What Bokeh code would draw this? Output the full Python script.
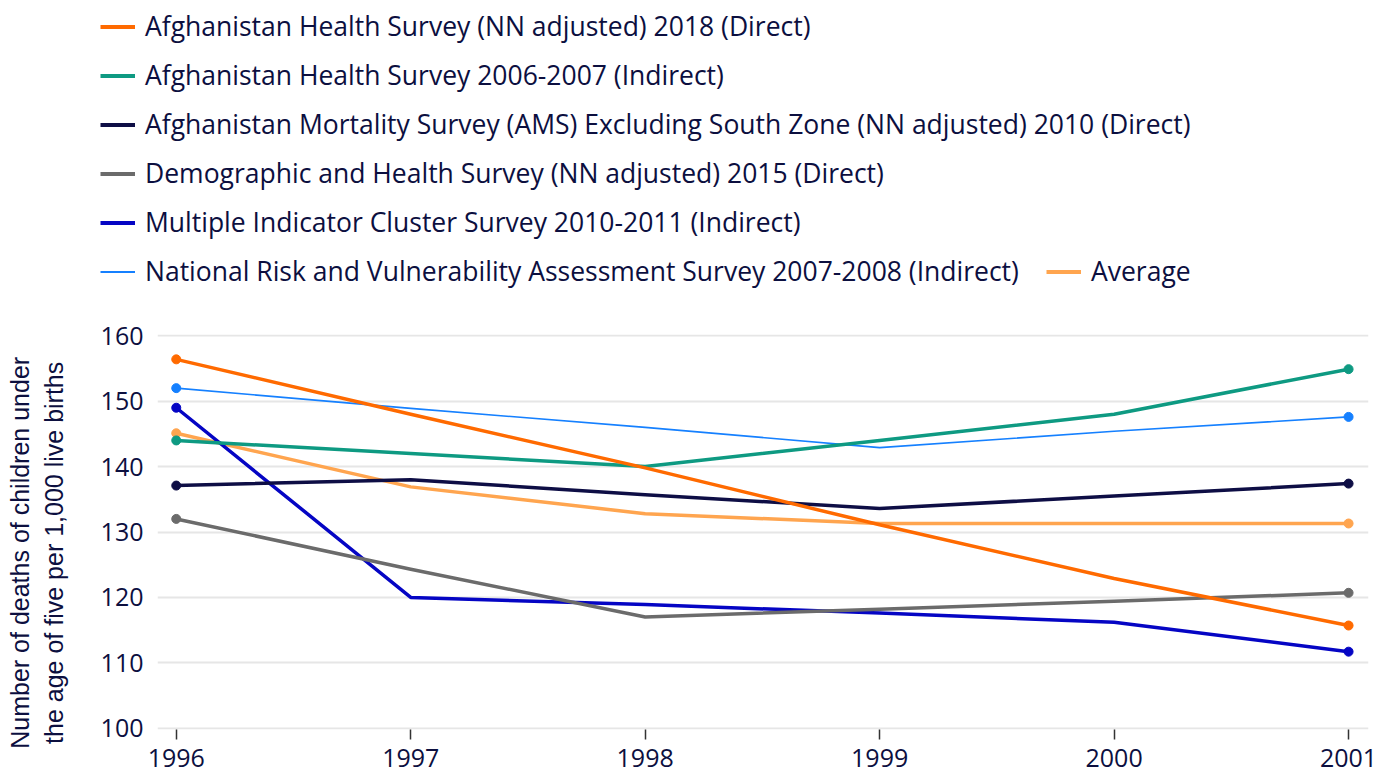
from bokeh.plotting import figure
from bokeh.layouts import column, row
from bokeh.models import Legend, LegendItem, FixedTicker, Range1d
from bokeh.embed import file_html
from bokeh.resources import INLINE

# ---- data ----
years = [1996, 1997, 1998, 1999, 2000, 2001]
y_ticks = [100, 110, 120, 130, 140, 150, 160]

series_names = [
    "Afghanistan Health Survey (NN adjusted) 2018 (Direct)",
    "Afghanistan Health Survey 2006-2007 (Indirect)",
    "Afghanistan Mortality Survey (AMS) Excluding South Zone (NN adjusted) 2010 (Direct)",
    "Demographic and Health Survey (NN adjusted) 2015 (Direct)",
    "Multiple Indicator Cluster Survey 2010-2011 (Indirect)",
    "National Risk and Vulnerability Assessment Survey 2007-2008 (Indirect)",
    "Average",
]
ahs_2018 = [156.4, 148.0, 139.8, 131.1, 122.9, 115.7]
ahs_2006 = [144.0, 142.0, 140.0, 144.0, 148.0, 154.9]
ams_2010 = [137.1, 138.0, 135.7, 133.6, 135.5, 137.4]
dhs_2015 = [132.0, 124.3, 117.0, 118.2, 119.4, 120.7]
mics_2010 = [149.0, 120.0, 118.9, 117.6, 116.2, 111.7]
nrva_2007 = [152.0, 148.9, 146.0, 142.9, 145.4, 147.6]
average = [145.1, 136.9, 132.8, 131.3, 131.3, 131.3]

values = [ahs_2018, ahs_2006, ams_2010, dhs_2015, mics_2010, nrva_2007, average]
colors = ["#ff6a00", "#0e9a82", "#0e0e45", "#6b6b6b", "#0505c4", "#1580ff", "#ffa54f"]
widths = [3.5, 3.5, 3.5, 3.5, 3.5, 1.6, 3.5]

TEXT = "#0c0f3f"
W = 1377
LEG_H = 300
MAIN_H = 476
PAD = "\u00a0" * 6  # trailing pad nudges the rotated axis title downwards

# ---- main chart ----
p = figure(width=W, height=MAIN_H, output_backend="svg", toolbar_location=None,
           x_range=Range1d(1995.92, 2001.085), y_range=Range1d(99.8, 160.2),
           min_border_top=34, min_border_left=157, min_border_right=9, min_border_bottom=47)
p.outline_line_color = None

for i in reversed(range(len(values))):
    vals = values[i]
    p.line(years, vals, line_color=colors[i], line_width=widths[i], line_join="round")
    p.scatter([years[0], years[-1]], [vals[0], vals[-1]], size=9,
              fill_color=colors[i], line_color=colors[i])

p.xaxis.ticker = FixedTicker(ticks=years)
p.yaxis.ticker = FixedTicker(ticks=y_ticks)
for ax in (p.xaxis, p.yaxis):
    ax.axis_line_color = None
    ax.major_label_text_font = "Open Sans"
    ax.major_label_text_font_size = "25px"
    ax.major_label_text_color = TEXT
    ax.minor_tick_line_color = None
p.xaxis.major_tick_in = 0
p.xaxis.major_tick_out = 10
p.xaxis.major_tick_line_color = "#333333"
p.xaxis.major_tick_line_width = 1.5
p.xaxis.major_label_standoff = 9
p.yaxis.major_tick_line_color = None
p.yaxis.major_tick_in = 0
p.yaxis.major_tick_out = 0
p.yaxis.major_label_standoff = 14
p.yaxis.axis_label = ("Number of deaths of children under" + PAD + "\n"
                      "the age of five per 1,000 live births" + PAD)
p.yaxis.axis_label_text_font = "Liberation Sans"
p.yaxis.axis_label_text_font_size = "25px"
p.yaxis.axis_label_text_font_style = "normal"
p.yaxis.axis_label_text_color = TEXT
p.yaxis.axis_label_standoff = 30

p.xgrid.grid_line_color = None
p.ygrid.grid_line_color = "#e6e6e6"
p.ygrid.grid_line_width = 2

# ---- legend panel: same series drawn outside its (empty) view, used only as legend keys ----
lf = figure(width=W, height=LEG_H, output_backend="svg", toolbar_location=None,
            x_axis_type=None, y_axis_type=None, x_range=Range1d(0, 1), y_range=Range1d(0, 1),
            min_border=0, min_border_left=0, min_border_right=0, min_border_top=0,
            min_border_bottom=0)
lf.outline_line_color = None
lf.xgrid.grid_line_color = None
lf.ygrid.grid_line_color = None

keys = []
for i in range(len(values)):
    keys.append(lf.line(years, values[i], line_color=colors[i], line_width=widths[i] + 0.5))


def style(leg):
    leg.padding = 0
    leg.margin = 0
    leg.border_line_color = None
    leg.background_fill_alpha = 0
    leg.label_text_font = "Open Sans"
    leg.label_text_font_size = "26.5px"
    leg.label_text_color = TEXT
    leg.glyph_width = 35
    leg.glyph_height = 33
    leg.label_height = 33
    leg.label_standoff = 10
    leg.spacing = 13


leg1 = Legend(items=[LegendItem(label=series_names[i], renderers=[keys[i]]) for i in range(6)],
              location=(100, 11), orientation="vertical")
style(leg1)
leg2 = Legend(items=[LegendItem(label=series_names[6], renderers=[keys[6]])],
              location=(1046, 11), orientation="vertical")
style(leg2)
lf.add_layout(leg1)
lf.add_layout(leg2)

layout = column(row(lf), p, spacing=0)
open("out.html", "w").write(file_html(layout, INLINE))
